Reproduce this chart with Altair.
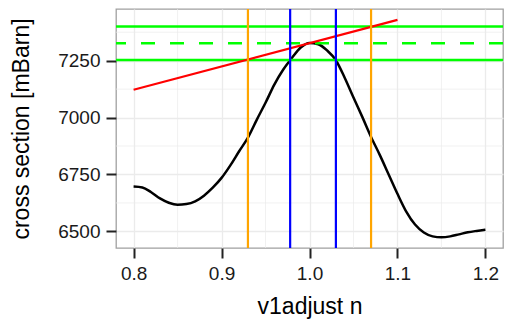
import altair as alt
import pandas as pd

# Black curve: cross section vs v1adjust n
curve_x = [0.80, 0.81, 0.82, 0.83, 0.84, 0.85, 0.86, 0.87, 0.88, 0.89,
           0.90, 0.91, 0.92, 0.93, 0.94, 0.95, 0.96, 0.97, 0.98, 0.99,
           1.00, 1.01, 1.02, 1.03, 1.04, 1.05, 1.06, 1.07, 1.08, 1.09,
           1.10, 1.11, 1.12, 1.13, 1.14, 1.15, 1.16, 1.17, 1.18, 1.19, 1.20]
curve_y = [6697, 6693, 6672, 6645, 6626, 6617, 6620, 6632, 6657, 6692,
           6735, 6790, 6852, 6912, 6990, 7065, 7145, 7210, 7262, 7308,
           7328, 7322, 7295, 7252, 7175, 7088, 7003, 6915, 6835, 6750,
           6665, 6587, 6530, 6495, 6478, 6474, 6478, 6487, 6496, 6502, 6507]

# Red tangent line
red_x = [0.80, 1.10]
red_y = [7122, 7429]

# Green horizontal lines
green_solid_y = [7253, 7400]
green_dashed_y = [7327]

# Vertical lines
orange_x = [0.93, 1.07]
blue_x = [0.978, 1.03]

# Axis ticks and minor grid
x_ticks = [0.8, 0.9, 1.0, 1.1, 1.2]
y_ticks = [6500, 6750, 7000, 7250]
minor_x = [0.85, 0.95, 1.05, 1.15]
minor_y = [6625, 6875, 7125, 7375]

FONT = "Liberation Sans"
xs = alt.Scale(domain=[0.78, 1.22], nice=False, zero=False)
ys = alt.Scale(domain=[6427, 7477], nice=False, zero=False)

x_axis = alt.Axis(values=x_ticks, format=".1f", titlePadding=12)
y_axis = alt.Axis(values=y_ticks, format="d", titlePadding=24)


def X(field="x"):
    return alt.X(f"{field}:Q", scale=xs, axis=x_axis, title="v1adjust n")


def Y(field="y"):
    return alt.Y(f"{field}:Q", scale=ys, axis=y_axis, title="cross section [mBarn]")


curve_df = pd.DataFrame({"x": curve_x, "y": curve_y})
red_df = pd.DataFrame({"x": red_x, "y": red_y})

minor_gx = alt.Chart(pd.DataFrame({"x": minor_x})).mark_rule(
    color="#EBEBEB", strokeWidth=0.7
).encode(x=X())
minor_gy = alt.Chart(pd.DataFrame({"y": minor_y})).mark_rule(
    color="#EBEBEB", strokeWidth=0.7
).encode(y=Y())

curve = alt.Chart(curve_df).mark_line(
    color="black", strokeWidth=2.5, interpolate="monotone"
).encode(x=X(), y=Y())

green_solid = alt.Chart(pd.DataFrame({"y": green_solid_y})).mark_rule(
    color="#00FF00", strokeWidth=2.5
).encode(y=Y())
green_dashed = alt.Chart(pd.DataFrame({"y": green_dashed_y})).mark_rule(
    color="#00FF00", strokeWidth=2.5, strokeDash=[14, 15]
).encode(y=Y())

red = alt.Chart(red_df).mark_line(color="#FF0000", strokeWidth=2.2).encode(
    x=X(), y=Y()
)

orange = alt.Chart(pd.DataFrame({"x": orange_x})).mark_rule(
    color="#FFA500", strokeWidth=2.2
).encode(x=X())
blue = alt.Chart(pd.DataFrame({"x": blue_x})).mark_rule(
    color="#0000FF", strokeWidth=2.2
).encode(x=X())

chart = alt.layer(
    minor_gx, minor_gy, curve, green_solid, green_dashed, red, orange, blue
).properties(
    width=387, height=239,
    padding={"left": 108, "top": 1, "right": 1, "bottom": 73},
    autosize="none",
    background="white",
).configure_axis(
    domain=False,
    grid=True,
    gridColor="#EBEBEB",
    gridWidth=1.3,
    ticks=True,
    tickColor="#222222",
    tickWidth=2,
    tickSize=10,
    labelFont=FONT,
    labelFontSize=19,
    labelColor="#1a1a1a",
    labelPadding=6,
    titleFont=FONT,
    titleFontSize=23,
    titleFontWeight="normal",
    titleColor="black",
).configure_view(
    stroke="#A0A0A0",
    strokeWidth=1.3,
)

chart.save("out.html", embed_options={"renderer": "svg", "actions": False})
